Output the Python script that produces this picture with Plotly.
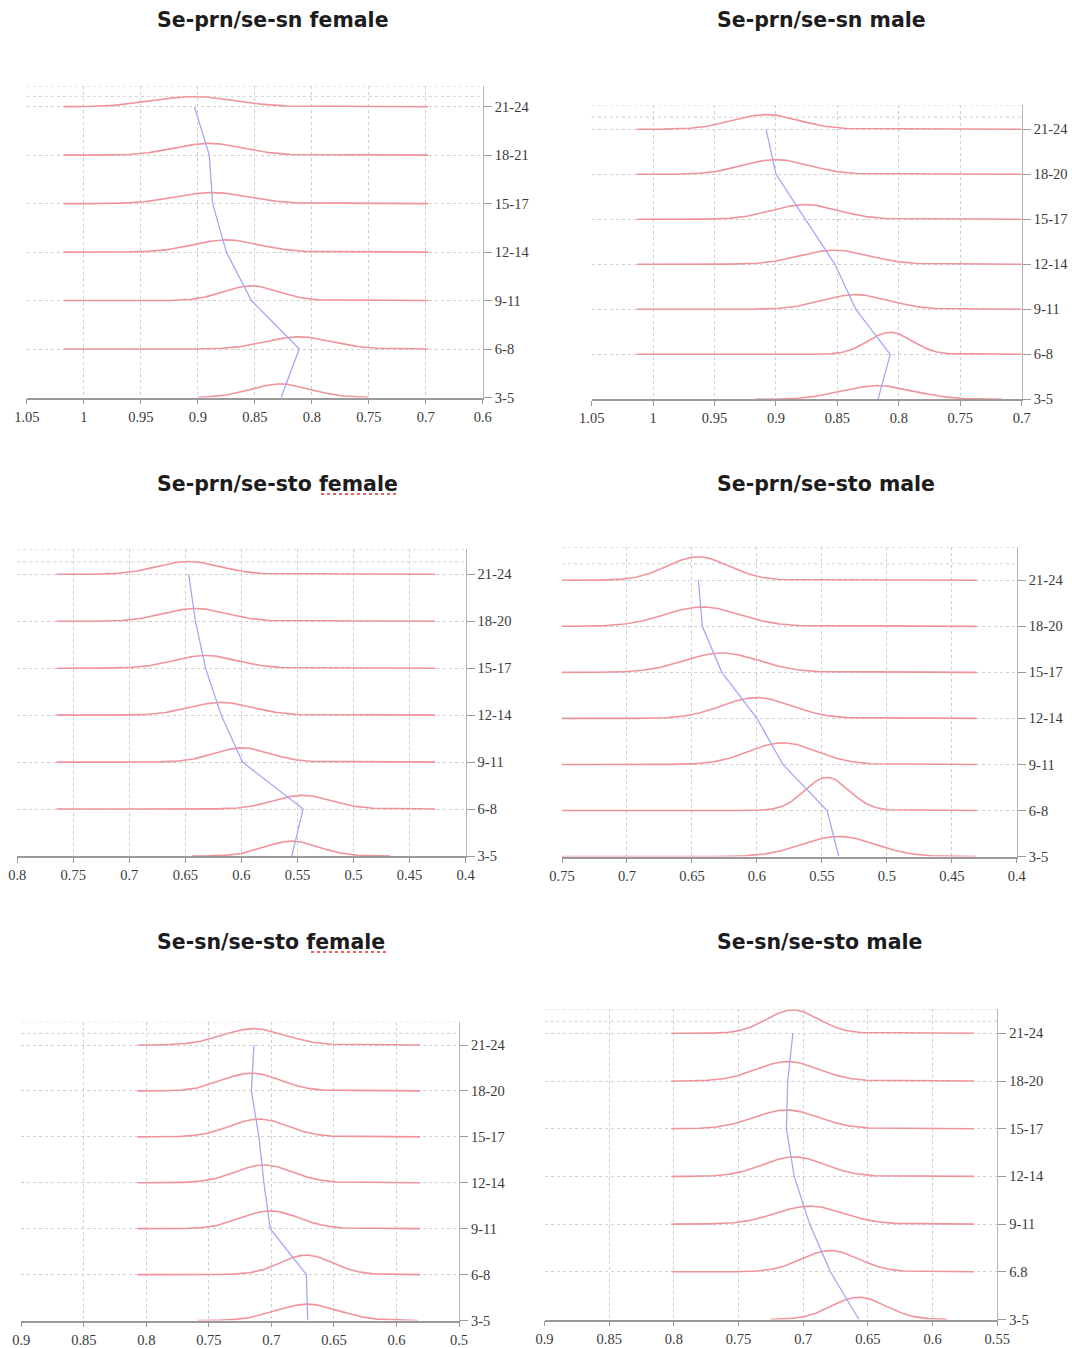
import numpy as np
import plotly.graph_objects as go

# ---------------------------------------------------------------- data
# Age groups, bottom row first
AGES = ["3-5", "6-8", "9-11", "12-14", "15-17", "18-20", "21-24"]
AGES_PRN_SN_F = ["3-5", "6-8", "9-11", "12-14", "15-17", "18-21", "21-24"]
AGES_SN_STO_M = ["3-5", "6.8", "9-11", "12-14", "15-17", "18-20", "21-24"]

TITLES = [
    "Se-prn/se-sn female", "Se-prn/se-sn male",
    "Se-prn/se-sto female", "Se-prn/se-sto male",
    "Se-sn/se-sto female", "Se-sn/se-sto male",
]

# Mean ratio per age group (bottom to top)
mean_prn_sn_f = [0.827, 0.811, 0.853, 0.875, 0.887, 0.890, 0.903]
mean_prn_sn_m = [0.817, 0.807, 0.835, 0.852, 0.876, 0.900, 0.908]
mean_prn_sto_f = [0.555, 0.545, 0.599, 0.618, 0.632, 0.641, 0.647]
mean_prn_sto_m = [0.537, 0.546, 0.580, 0.600, 0.627, 0.642, 0.645]
mean_sn_sto_f = [0.671, 0.672, 0.701, 0.706, 0.710, 0.716, 0.714]
mean_sn_sto_m = [0.657, 0.679, 0.695, 0.707, 0.713, 0.712, 0.708]

# Standard deviation per age group (bottom to top)
sd_prn_sn_f = [0.026, 0.029, 0.024, 0.029, 0.032, 0.030, 0.035]
sd_prn_sn_m = [0.029, 0.018, 0.027, 0.028, 0.027, 0.027, 0.027]
sd_prn_sto_f = [0.024, 0.026, 0.025, 0.028, 0.028, 0.028, 0.028]
sd_prn_sto_m = [0.028, 0.017, 0.026, 0.027, 0.029, 0.029, 0.024]
sd_sn_sto_f = [0.025, 0.021, 0.023, 0.023, 0.023, 0.023, 0.025]
sd_sn_sto_m = [0.021, 0.022, 0.026, 0.024, 0.025, 0.024, 0.020]

# x ranges over which the density curves are drawn (upper rows / 3-5 row)
span_prn_sn_f, span0_prn_sn_f = [1.018, 0.698], [0.900, 0.750]
span_prn_sn_m, span0_prn_sn_m = [1.013, 0.700], [0.917, 0.716]
span_prn_sto_f, span0_prn_sto_f = [0.765, 0.427], [0.644, 0.467]
span_prn_sto_m, span0_prn_sto_m = [0.750, 0.431], [0.750, 0.431]
span_sn_sto_f, span0_sn_sto_f = [0.807, 0.581], [0.759, 0.583]
span_sn_sto_m, span0_sn_sto_m = [0.802, 0.568], [0.725, 0.589]

# x axis ticks
tickv_prn_sn_f = [1.05, 1.0, 0.95, 0.9, 0.85, 0.8, 0.75, 0.7, 0.65]
tickt_prn_sn_f = ["1.05", "1", "0.95", "0.9", "0.85", "0.8", "0.75", "0.7", "0.6"]
tickv_prn_sn_m = [1.05, 1.0, 0.95, 0.9, 0.85, 0.8, 0.75, 0.7]
tickt_prn_sn_m = ["1.05", "1", "0.95", "0.9", "0.85", "0.8", "0.75", "0.7"]
tickv_prn_sto_f = [0.8, 0.75, 0.7, 0.65, 0.6, 0.55, 0.5, 0.45, 0.4]
tickt_prn_sto_f = ["0.8", "0.75", "0.7", "0.65", "0.6", "0.55", "0.5", "0.45", "0.4"]
tickv_prn_sto_m = [0.75, 0.7, 0.65, 0.6, 0.55, 0.5, 0.45, 0.4]
tickt_prn_sto_m = ["0.75", "0.7", "0.65", "0.6", "0.55", "0.5", "0.45", "0.4"]
tickv_sn_sto_f = [0.9, 0.85, 0.8, 0.75, 0.7, 0.65, 0.6, 0.55]
tickt_sn_sto_f = ["0.9", "0.85", "0.8", "0.75", "0.7", "0.65", "0.6", "0.5"]
tickv_sn_sto_m = [0.9, 0.85, 0.8, 0.75, 0.7, 0.65, 0.6, 0.55]
tickt_sn_sto_m = ["0.9", "0.85", "0.8", "0.75", "0.7", "0.65", "0.6", "0.55"]

# ---------------------------------------------------------------- layout
W, H = 1072, 1348
RED = "#f0949c"
BLUE = "#a4a8f6"
GRID = "#cfcfcf"
AXIS = "#9a9a9a"
TICKFONT = dict(family="Liberation Serif, DejaVu Serif, serif", size=14.5, color="#3a3a3a")

# px: plot left/right edge, py: plot top / top-row baseline / x axis (pixels)
panels = [
    dict(ages=AGES_PRN_SN_F, mean=mean_prn_sn_f, sd=sd_prn_sn_f, span=span_prn_sn_f, span0=span0_prn_sn_f,
         tv=tickv_prn_sn_f, tt=tickt_prn_sn_f, k=0.0073,
         px=(26.9, 482.8), py=(86, 106.7, 397.5), title=(155, 20)),
    dict(ages=AGES, mean=mean_prn_sn_m, sd=sd_prn_sn_m, span=span_prn_sn_m, span0=span0_prn_sn_m,
         tv=tickv_prn_sn_m, tt=tickt_prn_sn_m, k=0.0088,
         px=(591.7, 1021.7), py=(105, 129.3, 399.3), title=(715, 20)),
    dict(ages=AGES, mean=mean_prn_sto_f, sd=sd_prn_sto_f, span=span_prn_sto_f, span0=span0_prn_sto_f,
         tv=tickv_prn_sto_f, tt=tickt_prn_sto_f, k=0.0076,
         px=(17.2, 465.6), py=(549.3, 574.3, 856), title=(155, 484)),
    dict(ages=AGES, mean=mean_prn_sto_m, sd=sd_prn_sto_m, span=span_prn_sto_m, span0=span0_prn_sto_m,
         tv=tickv_prn_sto_m, tt=tickt_prn_sto_m, k=0.0122,
         px=(562.0, 1016.8), py=(547.3, 580.3, 856.5), title=(715, 484)),
    dict(ages=AGES, mean=mean_sn_sto_f, sd=sd_sn_sto_f, span=span_sn_sto_f, span0=span0_sn_sto_f,
         tv=tickv_sn_sto_f, tt=tickt_sn_sto_f, k=0.0089,
         px=(21.3, 459.0), py=(1021.7, 1045, 1320.5), title=(155, 942)),
    dict(ages=AGES_SN_STO_M, mean=mean_sn_sto_m, sd=sd_sn_sto_m, span=span_sn_sto_m, span0=span0_sn_sto_m,
         tv=tickv_sn_sto_m, tt=tickt_sn_sto_m, k=0.0098,
         px=(544.5, 997.3), py=(1009.3, 1033.3, 1319.5), title=(715, 942)),
]

fig = go.Figure()
layout = dict(
    width=W, height=H, margin=dict(l=0, r=0, t=0, b=0, autoexpand=False),
    paper_bgcolor="white", plot_bgcolor="white", showlegend=False,
    annotations=[], shapes=[],
)

for i, p in enumerate(panels, start=1):
    sfx = "" if i == 1 else str(i)
    xa, ya = f"x{sfx}", f"y{sfx}"
    n = len(p["ages"])
    rows = list(range(n))

    # density curves, one per age group
    for r, (mu, sd) in enumerate(zip(p["mean"], p["sd"])):
        lo, hi = sorted(p["span0"] if r == 0 else p["span"])
        xs = np.linspace(lo, hi, 400)
        ys = r + p["k"] / sd * np.exp(-0.5 * ((xs - mu) / sd) ** 2)
        fig.add_trace(go.Scatter(x=xs, y=ys, mode="lines", xaxis=xa, yaxis=ya,
                                 line=dict(color=RED, width=1.6), hoverinfo="skip"))

    # line through the means
    fig.add_trace(go.Scatter(x=p["mean"], y=rows, mode="lines", xaxis=xa, yaxis=ya,
                             line=dict(color=BLUE, width=1.3), hoverinfo="skip"))

    top_px, row_top_px, bot_px = p["py"]
    step = (bot_px - row_top_px) / (n - 1)
    ytop = (n - 1) + (row_top_px - top_px) / step
    left, right = p["px"]

    layout[f"xaxis{sfx}"] = dict(
        domain=[left / W, right / W], anchor=ya, automargin=False,
        range=[p["tv"][0], p["tv"][-1]],
        tickmode="array", tickvals=p["tv"], ticktext=p["tt"],
        showgrid=True, gridcolor=GRID, griddash="dot", gridwidth=1,
        showline=True, linecolor=AXIS, linewidth=1.5,
        ticks="outside", ticklen=5, tickcolor=AXIS,
        tickfont=TICKFONT, zeroline=False,
    )
    layout[f"yaxis{sfx}"] = dict(
        domain=[1 - bot_px / H, 1 - top_px / H], anchor=xa, side="right", automargin=False,
        range=[0, ytop],
        tickmode="array", tickvals=rows, ticktext=p["ages"],
        showgrid=True, gridcolor=GRID, griddash="dot", gridwidth=1,
        showline=True, linecolor="#b5b5b5", linewidth=1.2,
        ticks="outside", ticklen=8, tickcolor=AXIS,
        tickfont=TICKFONT, zeroline=False,
    )

    # upper frame lines above the top row
    for yv in (ytop, (n - 1) + (ytop - (n - 1)) / 2):
        layout["shapes"].append(dict(
            type="line", xref=f"{xa} domain", yref=ya, x0=0, x1=1, y0=yv, y1=yv,
            line=dict(color=GRID, width=1, dash="dot"), layer="below"))

    tx, ty = p["title"]
    layout["annotations"].append(dict(
        text=f"<b>{TITLES[i - 1]}</b>", xref="paper", yref="paper", x=tx / W, y=1 - ty / H,
        xanchor="left", yanchor="middle", showarrow=False,
        font=dict(family="DejaVu Sans, Verdana, sans-serif", size=20.5, color="#1c1c1c"),
    ))

# spell-check underline beneath "female"
for x0, x1, yv in ((321, 398, 494), (311, 387, 952)):
    layout["shapes"].append(dict(
        type="line", xref="paper", yref="paper", x0=x0 / W, x1=x1 / W,
        y0=1 - yv / H, y1=1 - yv / H, line=dict(color="#e03030", width=1.5, dash="dot")))

fig.update_layout(**layout)
fig.write_html("out.html")
